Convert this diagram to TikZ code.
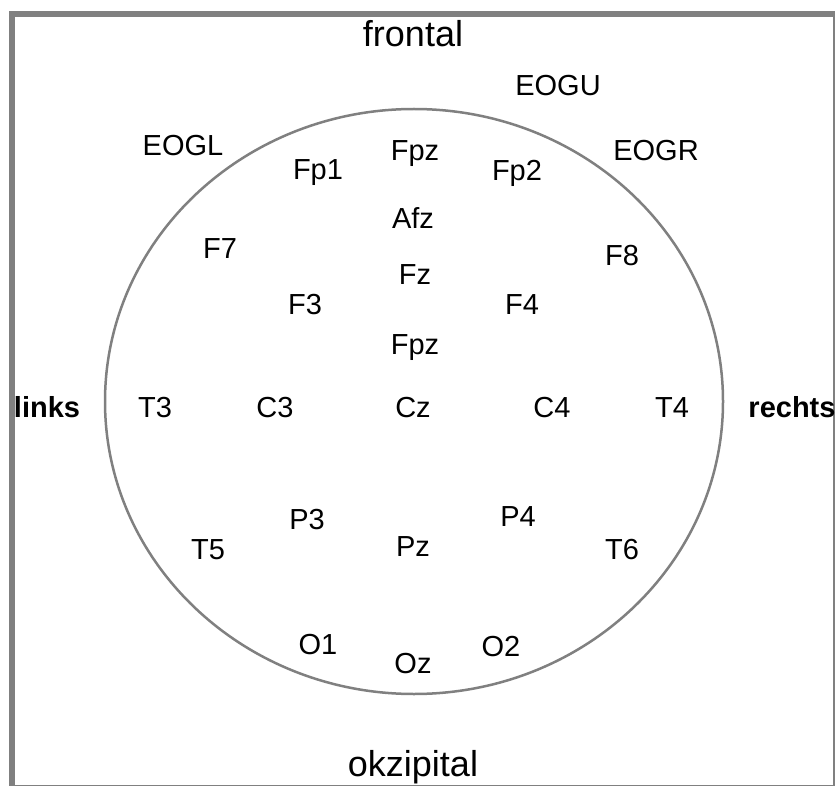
\documentclass[tikz,border=0pt]{standalone}
\usepackage{fontspec}
\setmainfont{Liberation Sans}
\begin{document}
\begin{tikzpicture}[x=1pt,y=-1pt,
  lbl/.style={anchor=base,inner sep=0pt,font=\fontsize{29}{31}\selectfont},
  side/.style={anchor=base,inner sep=0pt,font=\fontsize{29}{31}\selectfont\bfseries},
  dir/.style={anchor=base,inner sep=0pt,font=\fontsize{36}{38}\selectfont},
  frame/.style={draw={rgb,255:red,128;green,128;blue,128},line width=6pt},
  head/.style={draw={rgb,255:red,128;green,128;blue,128},line width=2.5pt}]
\useasboundingbox (0,0) rectangle (835,786);
\clip (0,0) rectangle (835,786);
\fill[white] (0,0) rectangle (835,786);
\draw[frame] (12,14) rectangle (835.5,787.5);
\draw[head] (414,401.5) ellipse [x radius=309, y radius=292.5];
\node[dir] (frontal) at (413,46.5) {frontal};
\node[dir] (okz) at (413,776.5) {okzipital};
\node[lbl] (eogu) at (558,96) {EOGU};
\node[lbl] (eogl) at (183,156) {EOGL};
\node[lbl] (eogr) at (656,161) {EOGR};
\node[lbl] (fpz) at (415,161) {Fpz};
\node[lbl] (fp1) at (318,180) {Fp1};
\node[lbl] (fp2) at (517,181) {Fp2};
\node[lbl] (afz) at (413,229) {Afz};
\node[lbl] (f7) at (220,259) {F7};
\node[lbl] (fz) at (415,284) {Fz};
\node[lbl] (f8) at (622,266) {F8};
\node[lbl] (f3) at (305,314) {F3};
\node[lbl] (f4) at (522,314) {F4};
\node[lbl] (fpzb) at (415,354) {Fpz};
\node[side] (links) at (47,417) {links};
\node[lbl] (t3) at (155,417) {T3};
\node[lbl] (c3) at (275,417) {C3};
\node[lbl] (cz) at (413,417) {Cz};
\node[lbl] (c4) at (552,417) {C4};
\node[lbl] (t4) at (672,417) {T4};
\node[side] (rechts) at (792,417) {rechts};
\node[lbl] (p3) at (307,529) {P3};
\node[lbl] (p4) at (518,526) {P4};
\node[lbl] (t5) at (208,559) {T5};
\node[lbl] (pz) at (413,556) {Pz};
\node[lbl] (t6) at (622,559) {T6};
\node[lbl] (o1) at (318,654) {O1};
\node[lbl] (o2) at (501,656) {O2};
\node[lbl] (oz) at (413,673) {Oz};
\end{tikzpicture}
\end{document}
